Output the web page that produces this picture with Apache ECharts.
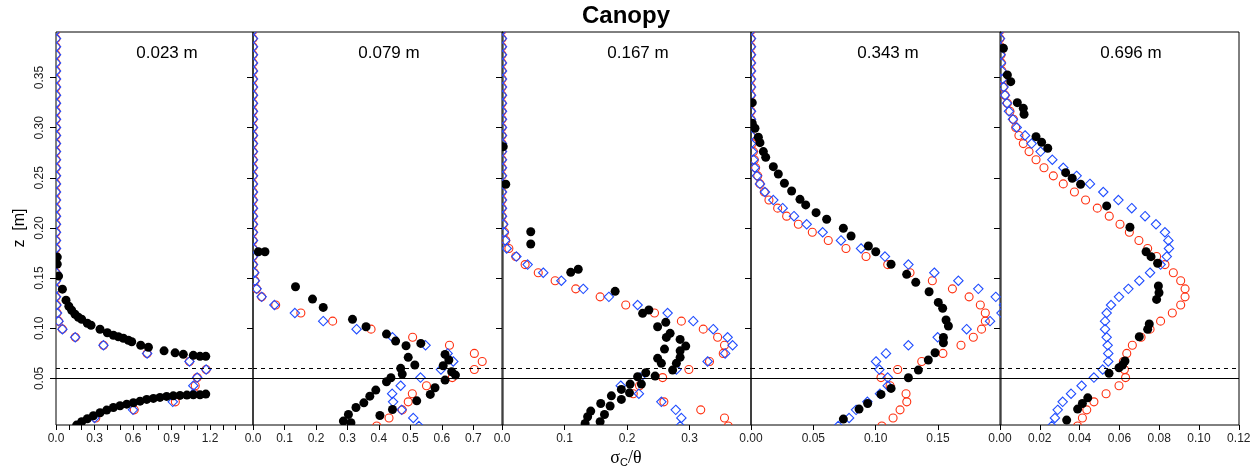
<!DOCTYPE html>
<html><head><meta charset="utf-8">
<script src="https://cdn.jsdelivr.net/npm/echarts@6/dist/echarts.min.js"></script>
<style>html,body{margin:0;padding:0;background:#fff}#c{width:1260px;height:470px}</style>
</head><body><div id="c"></div>
<script>
// ---------------- data ----------------
const titleText = 'Canopy';
const panelLabels = ['0.023 m', '0.079 m', '0.167 m', '0.343 m', '0.696 m'];
const yTicks = [0.05, 0.10, 0.15, 0.20, 0.25, 0.30, 0.35];
const yRange = [0.0035, 0.3955];
const zLines = [0.05, 0.0593];
const xMaxes = [1.535, 0.794, 0.3984, 0.2006, 0.1201];
const xTicks1 = [0, 0.1, 0.2, 0.3, 0.4, 0.5, 0.6, 0.7, 0.8, 0.9, 1.0, 1.1, 1.2, 1.3, 1.4];
const xLabels1 = [0, 0.3, 0.6, 0.9, 1.2];
const xTicks2 = [0, 0.1, 0.2, 0.3, 0.4, 0.5, 0.6, 0.7];
const xTicks3 = [0, 0.1, 0.2, 0.3];
const xTicks4 = [0, 0.05, 0.10, 0.15];
const xTicks5 = [0, 0.02, 0.04, 0.06, 0.08, 0.10, 0.12];

// model heights (shared by red circles and blue diamonds)
const zModel = [0.0025,0.0105,0.0186,0.0266,0.0347,0.0427,0.0508,0.0588,0.0669,0.0749,
  0.0830,0.0910,0.0991,0.1071,0.1152,0.1232,0.1313,0.1393,0.1474,0.1554,
  0.1635,0.1715,0.1796,0.1876,0.1957,0.2037,0.2118,0.2198,0.2279,0.2359,
  0.2440,0.2520,0.2601,0.2681,0.2762,0.2842,0.2923,0.3003,0.3084,0.3164,
  0.3245,0.3325,0.3406,0.3486,0.3567,0.3647,0.3728,0.3808,0.3889,0.3969];

const red1 = [0.17,0.31,0.61,0.93,1.08,1.085,1.10,1.17,1.04,0.71,
  0.37,0.15,0.05,0.02,0.008,0.004,0,0,0,0,
  0,0,0,0,0,0,0,0,0,0, 0,0,0,0,0,0,0,0,0,0, 0,0,0,0,0,0,0,0,0,0];
const blue1 = [0.17,0.30,0.60,0.91,1.07,1.07,1.10,1.17,1.04,0.71,
  0.37,0.15,0.05,0.02,0.008,0.004,0,0,0,0,
  0,0,0,0,0,0,0,0,0,0, 0,0,0,0,0,0,0,0,0,0, 0,0,0,0,0,0,0,0,0,0];
const black1 = [[0.01,0.171],[0.01,0.164],[0.02,0.152],[0.05,0.139],[0.078,0.128],[0.10,0.122],[0.122,0.118],
  [0.148,0.114],[0.174,0.111],[0.2,0.109],[0.244,0.105],[0.273,0.103],[0.343,0.099],[0.4,0.0955],[0.447,0.093],
  [0.486,0.0915],[0.525,0.09],[0.564,0.088],[0.59,0.0865],[0.66,0.083],[0.72,0.081],[0.842,0.0775],[0.928,0.0755],
  [0.992,0.074],[1.07,0.073],[1.122,0.072],[1.167,0.072],
  [1.167,0.0343],[1.122,0.0336],[1.07,0.0336],[1.02,0.0333],[0.966,0.033],[0.914,0.0326],[0.862,0.032],[0.81,0.031],
  [0.759,0.030],[0.707,0.029],[0.655,0.0273],[0.603,0.0257],[0.551,0.0243],[0.499,0.0227],[0.447,0.021],[0.395,0.0184],
  [0.343,0.0157],[0.291,0.0127],[0.244,0.0097],[0.2,0.0067],[0.161,0.0034]];

const red2 = [0.393,0.432,0.474,0.493,0.506,0.551,0.633,0.703,0.728,0.703,
  0.624,0.507,0.375,0.253,0.152,0.072,0.0275,0.0116,0.006,0.004,
  0,0,0,0,0,0,0,0,0,0, 0,0,0,0,0,0,0,0,0,0, 0,0,0,0,0,0,0,0,0,0];
const blue2 = [0.527,0.509,0.472,0.445,0.442,0.469,0.532,0.597,0.636,0.618,
  0.548,0.443,0.329,0.223,0.133,0.068,0.0275,0.0116,0.006,0.004,
  0,0,0,0,0,0,0,0,0,0, 0,0,0,0,0,0,0,0,0,0, 0,0,0,0,0,0,0,0,0,0];
const black2 = [[0.017,0.1763],[0.038,0.1763],[0.135,0.1414],[0.189,0.1291],[0.223,0.1208],[0.316,0.1089],
  [0.359,0.1015],[0.424,0.0942],[0.453,0.0872],[0.486,0.0825],[0.533,0.0849],[0.493,0.071],[0.514,0.0633],
  [0.610,0.0739],[0.622,0.0683],[0.604,0.0626],[0.631,0.0566],[0.643,0.0533],[0.469,0.06],[0.474,0.0543],
  [0.438,0.0506],[0.424,0.0466],[0.610,0.0483],[0.578,0.0406],[0.563,0.034],[0.390,0.0383],[0.371,0.0323],
  [0.352,0.0256],[0.327,0.021],[0.303,0.014],[0.287,0.0074],[0.311,0.0057],[0.403,0.013],[0.443,0.019],[0.520,0.0276]];

const red3 = [0.362,0.356,0.318,0.259,0.21,0.22,0.257,0.299,0.332,0.354,
  0.356,0.345,0.322,0.287,0.244,0.198,0.157,0.118,0.085,0.058,
  0.037,0.022,0.011,0.006,0.004,0.002,0,0,0,0, 0,0,0,0,0,0,0,0,0,0, 0,0,0,0,0,0,0,0,0,0];
const blue3 = [0.285,0.287,0.278,0.255,0.219,0.19,0.221,0.279,0.329,0.357,
  0.369,0.361,0.338,0.306,0.265,0.217,0.171,0.130,0.095,0.066,
  0.041,0.023,0.0075,0.005,0.003,0.002,0,0,0,0, 0,0,0,0,0,0,0,0,0,0, 0,0,0,0,0,0,0,0,0,0];
const black3 = [[0.002,0.2811],[0.006,0.2436],[0.046,0.1963],[0.046,0.184],[0.110,0.1558],[0.122,0.1588],
  [0.181,0.1368],[0.225,0.1149],[0.235,0.1182],[0.262,0.1059],[0.249,0.1015],[0.269,0.0949],[0.263,0.0909],
  [0.285,0.0889],[0.294,0.0822],[0.260,0.0792],[0.285,0.0775],[0.285,0.071],[0.249,0.07],[0.255,0.065],
  [0.279,0.065],[0.273,0.0583],[0.230,0.0556],[0.245,0.0523],[0.217,0.0516],[0.223,0.0443],[0.205,0.0443],
  [0.191,0.039],[0.204,0.0356],[0.175,0.0326],[0.191,0.029],[0.173,0.0224],[0.158,0.025],[0.142,0.0174],
  [0.164,0.014],[0.137,0.0117],[0.157,0.0067],[0.133,0.005]];

const red4 = [0.105,0.114,0.1196,0.125,0.1244,0.1116,0.1043,0.1177,0.137,0.154,
  0.1685,0.1784,0.185,0.188,0.188,0.184,0.175,0.1616,0.1455,0.1276,
  0.1097,0.0923,0.0762,0.062,0.0492,0.038,0.0286,0.0214,0.0144,0.0107,
  0.0072,0.0054,0.0037,0.0027,0.002,0.001,0,0,0,0, 0,0,0,0,0,0,0,0,0,0];
const blue4 = [0.070,0.0787,0.0843,0.0934,0.1035,0.1097,0.1097,0.103,0.1003,0.1083,
  0.1263,0.1498,0.173,0.1918,0.201,0.203,0.1964,0.1824,0.1664,0.1471,
  0.1263,0.1075,0.0883,0.0722,0.0575,0.0447,0.0345,0.0254,0.0179,0.0112,
  0.0072,0.0048,0.003,0.002,0.001,0,0,0,0,0, 0,0,0,0,0,0,0,0,0,0];
const black4 = [[0.001,0.325],[0.001,0.3045],[0.0032,0.2995],[0.0059,0.2905],[0.0072,0.2851],[0.0099,0.2762],
  [0.0118,0.2705],[0.0179,0.2612],[0.0219,0.2539],[0.0268,0.2446],[0.0326,0.2369],[0.0393,0.2286],[0.0439,0.223],
  [0.0522,0.2153],[0.0607,0.2087],[0.0741,0.1997],[0.0803,0.192],[0.0942,0.182],[0.1001,0.1763],[0.1124,0.1638],
  [0.1249,0.1538],[0.1322,0.1458],[0.1429,0.1364],[0.1503,0.1258],[0.1538,0.1199],[0.1565,0.1082],[0.1584,0.1022],
  [0.1544,0.0909],[0.1544,0.0855],[0.1477,0.0756],[0.1423,0.0683],[0.1343,0.0583],[0.1263,0.0506],[0.1124,0.04],
  [0.1043,0.034],[0.0936,0.025],[0.0867,0.0194],[0.0741,0.0094]];

const red5 = [0.039,0.0414,0.0436,0.0472,0.0533,0.0598,0.0631,0.0625,0.062,0.0637,
  0.0665,0.0709,0.0754,0.0807,0.0866,0.0908,0.093,0.093,0.0908,0.0871,
  0.0829,0.0787,0.0742,0.0698,0.065,0.0603,0.0549,0.0489,0.043,0.0374,
  0.0318,0.0268,0.0221,0.0181,0.0146,0.0117,0.0095,0.0079,0.0067,0.005,
  0.0037,0.0025,0.0017,0.0012,0.001,0.0007,0.0005,0.0003,0,0];
const blue5 = [0.026,0.0276,0.029,0.0315,0.0357,0.041,0.0472,0.0516,0.0544,0.0544,
  0.0541,0.0536,0.0528,0.0528,0.0536,0.0558,0.0598,0.0645,0.07,0.0754,
  0.0807,0.0838,0.0849,0.0846,0.0829,0.0784,0.0729,0.0662,0.0595,0.0519,
  0.0452,0.0385,0.0318,0.0263,0.0204,0.0159,0.0126,0.0084,0.0065,0.0045,
  0.0035,0.0025,0.0018,0.0012,0.0008,0.0005,0.0003,0,0,0];
const black5 = [[0.0017,0.3793],[0.0037,0.3527],[0.0054,0.346],[0.0087,0.325],[0.0117,0.3195],[0.0121,0.3135],
  [0.0181,0.2911],[0.0209,0.2855],[0.024,0.2795],[0.033,0.2552],[0.0363,0.2496],[0.0405,0.2436],[0.0536,0.222],
  [0.0653,0.2007],[0.0734,0.1763],[0.0759,0.1714],[0.0792,0.1648],[0.0796,0.1421],[0.0799,0.1354],[0.0787,0.1288],
  [0.075,0.1042],[0.0742,0.0989],[0.07,0.0915],[0.0628,0.0673],[0.0616,0.0633],[0.0598,0.0606],[0.0548,0.055],
  [0.0441,0.0306],[0.0414,0.025],[0.039,0.0194],[0.0335,0.0084]];

// ---------------- layout / style ----------------
const gridLeft = [56, 253, 502, 751, 1000];
const gridWidth = [197, 250, 249, 250, 239];
const gridTop = 32, gridHeight = 393;
const labelX = [167, 389, 638, 888, 1131];
const RED = '#ff3010', BLUE = '#1f4cff';
const FONT = '"Liberation Sans", Arial, Helvetica, sans-serif';

const panels = [
  {red: red1, blue: blue1, black: black1, ticks: xTicks1, labels: xLabels1, dec: 1},
  {red: red2, blue: blue2, black: black2, ticks: xTicks2, labels: xTicks2, dec: 1},
  {red: red3, blue: blue3, black: black3, ticks: xTicks3, labels: xTicks3, dec: 1},
  {red: red4, blue: blue4, black: black4, ticks: xTicks4, labels: xTicks4, dec: 2},
  {red: red5, blue: blue5, black: black5, ticks: xTicks5, labels: xTicks5, dec: 2}
];

function ringItem(color) {
  return function (params, api) {
    const p = api.coord([api.value(0), api.value(1)]);
    return {type: 'circle', shape: {cx: p[0], cy: p[1], r: 4.0},
      style: {fill: 'none', stroke: color, lineWidth: 1.1}};
  };
}
function diamondItem(color) {
  return function (params, api) {
    const p = api.coord([api.value(0), api.value(1)]);
    const s = 4.7;
    return {type: 'polygon', shape: {points: [[p[0], p[1] - s], [p[0] + s, p[1]], [p[0], p[1] + s], [p[0] - s, p[1]]]},
      style: {fill: 'none', stroke: color, lineWidth: 1.1}};
  };
}
function dotItem(params, api) {
  const p = api.coord([api.value(0), api.value(1)]);
  return {type: 'circle', shape: {cx: p[0], cy: p[1], r: 4.5}, style: {fill: '#000'}};
}

const grids = [], xAxes = [], yAxes = [], series = [];
panels.forEach(function (p, i) {
  grids.push({left: gridLeft[i], top: gridTop, width: gridWidth[i], height: gridHeight,
    show: true, borderColor: '#000', borderWidth: 1, backgroundColor: 'transparent'});
  xAxes.push({type: 'value', gridIndex: i, min: 0, max: xMaxes[i],
    axisLine: {show: false}, splitLine: {show: false},
    axisTick: {show: true, length: 5, customValues: p.ticks, lineStyle: {color: '#000', width: 1}},
    axisLabel: {show: true, customValues: p.labels, margin: 8, color: '#222', fontSize: 12, fontFamily: FONT,
      formatter: (function (d) { return function (v) { return Number(v).toFixed(d); }; })(p.dec)}});
  yAxes.push({type: 'value', gridIndex: i, min: yRange[0], max: yRange[1],
    axisLine: {show: false}, splitLine: {show: false},
    axisTick: {show: true, length: 6, customValues: yTicks, lineStyle: {color: '#000', width: 1}},
    axisLabel: {show: i === 0, customValues: yTicks, rotate: 90, margin: 10, color: '#222', fontSize: 12, fontFamily: FONT,
      formatter: function (v) { return Number(v).toFixed(2); }}});
  series.push({type: 'custom', xAxisIndex: i, yAxisIndex: i, clip: true, silent: true,
    encode: {x: 0, y: 1}, renderItem: ringItem(RED),
    data: zModel.map(function (z, k) { return [p.red[k], z]; }),
    markLine: {silent: true, symbol: ['none', 'none'], label: {show: false}, animation: false,
      lineStyle: {color: '#000', width: 1, type: 'solid'},
      data: [{yAxis: zLines[0]}, {yAxis: zLines[1], lineStyle: {type: [4, 4], color: '#000', width: 1}}]}});
  series.push({type: 'custom', xAxisIndex: i, yAxisIndex: i, clip: true, silent: true,
    encode: {x: 0, y: 1}, renderItem: diamondItem(BLUE),
    data: zModel.map(function (z, k) { return [p.blue[k], z]; })});
  series.push({type: 'custom', xAxisIndex: i, yAxisIndex: i, clip: true, silent: true,
    encode: {x: 0, y: 1}, renderItem: dotItem, data: p.black});
});

const graphics = [
  {type: 'text', x: 626, y: 16, style: {text: titleText, fill: '#000',
    font: 'bold 24px ' + FONT, align: 'center', verticalAlign: 'middle'}},
  {type: 'text', x: 20, y: 228, rotation: Math.PI / 2, style: {text: 'z  [m]', fill: '#000',
    font: '16px ' + FONT, align: 'center', verticalAlign: 'middle'}},
  {type: 'text', x: 626, y: 458, style: {
    text: '{g|σ}{s|C}{g|/θ}', align: 'center', verticalAlign: 'middle',
    rich: {g: {font: '18px "Liberation Serif", "DejaVu Serif", serif', fill: '#000'},
           s: {font: '11px ' + FONT, fill: '#000', padding: [9, 0, 0, 0]}}}}
];
panelLabels.forEach(function (t, i) {
  graphics.push({type: 'text', x: labelX[i], y: 53, style: {text: t, fill: '#000',
    font: '17px ' + FONT, align: 'center', verticalAlign: 'middle'}});
});

const chart = echarts.init(document.getElementById('c'), null, {renderer: 'canvas'});
chart.setOption({
  animation: false,
  backgroundColor: '#fff',
  grid: grids, xAxis: xAxes, yAxis: yAxes, series: series,
  graphic: graphics
});
</script></body></html>
